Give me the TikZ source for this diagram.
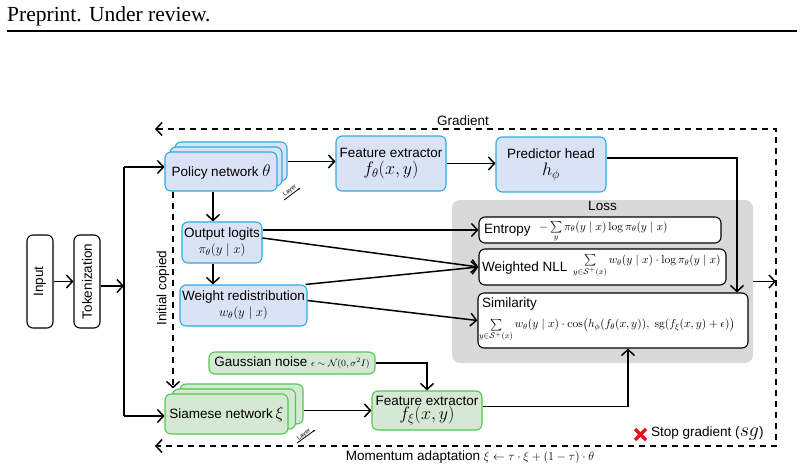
\documentclass[tikz,border=0pt]{standalone}
\usepackage{fix-cm}
\usepackage{amsmath,amssymb}
\usepackage[no-math]{fontspec}
\setmainfont{Liberation Sans}
\newfontfamily\serifhdr{Liberation Serif}
\usetikzlibrary{arrows.meta,calc}
\definecolor{bfill}{HTML}{DAE3F6}
\definecolor{bdraw}{HTML}{2DA9E1}
\definecolor{gfill}{HTML}{D5E8D4}
\definecolor{gdraw}{HTML}{4DC94D}
\definecolor{lossgray}{HTML}{D9D9D9}
\definecolor{xred}{HTML}{E0141B}
\newcommand{\fs}[1]{\fontsize{#1}{#1}\selectfont}
\begin{document}
\begin{tikzpicture}[x=1pt,y=-1pt,
  font=\fontsize{13.5}{16}\selectfont,
  bluebox/.style={draw=bdraw, fill=bfill, line width=1.1pt, rounded corners=6pt, inner sep=0pt, align=center},
  greenbox/.style={draw=gdraw, fill=gfill, line width=1.1pt, rounded corners=6pt, inner sep=0pt, align=center},
  blackbox/.style={draw=black, fill=white, line width=1.1pt, rounded corners=6pt, inner sep=0pt},
  arr/.style={-{Straight Barb[length=6pt,width=13pt]}, line width=1.5pt},
  dsh/.style={dash pattern=on 6.5pt off 4.5pt, line width=1.5pt},
  lbl/.style={inner sep=0pt},
  tiny/.style={font=\fontsize{6}{6}\selectfont, inner sep=0pt}
]
\useasboundingbox (0,0) rectangle (804,471);

% header
\node[anchor=base west, font=\serifhdr\fontsize{21.5}{24}\selectfont, inner sep=0pt] (hdr) at (7,21) {Preprint. Under review.};
\draw[line width=2.5pt] (7,31) -- (797,31);

% gradient frame
\coordinate (gtl) at (155,129);
\coordinate (gtr) at (776,129);
\coordinate (gbr) at (776,446);
\coordinate (gbl) at (155,446);
\draw[dsh, {Straight Barb[length=6pt,width=13pt]}-{Straight Barb[length=6pt,width=13pt]}] (gtl) -- (gtr) -- (gbr) -- (gbl);
\node[lbl] (grad) at (463,121) {Gradient};
\node[lbl] (mom) at (470,457) {Momentum adaptation {\fs{12}$\xi\leftarrow\tau\cdot\xi+(1-\tau)\cdot\theta$}};

% loss region
\node[fill=lossgray, rounded corners=8pt, minimum width=301pt, minimum height=163pt, inner sep=0pt] (loss) at (602.5,281.5) {};
\node[anchor=north, inner sep=1pt] (losslbl) at (loss.north) {Loss};

\node[blackbox, minimum width=242pt, minimum height=26pt] (ent) at (600,230) {};
\node[lbl, anchor=west] (entt) at (484,230) {Entropy};
\node[lbl, anchor=west] (entf) at (539,232) {\fs{11.5}$-\sum\limits_{y}\pi_\theta(y\mid x)\log\pi_\theta(y\mid x)$};

\node[blackbox, minimum width=247pt, minimum height=36pt] (nll) at (602.5,267) {};
\node[lbl, anchor=west] (nllt) at (482,268) {Weighted NLL};
\node[lbl, anchor=west] (nllf) at (573,266) {\fs{11.5}$\sum\limits_{y\in\mathcal{S}^+(x)} w_\theta(y\mid x)\cdot\log\pi_\theta(y\mid x)$};

\node[blackbox, minimum width=270pt, minimum height=55pt] (sim) at (613,320.5) {};
\node[lbl, anchor=west] (simt) at (482,304) {Similarity};
\node[lbl, anchor=west] (simf) at (479,330) {\fs{11.5}$\sum\limits_{y\in\mathcal{S}^+(x)} w_\theta(y\mid x)\cdot\cos\!\big(h_\phi(f_\theta(x,y)),\ \mathrm{sg}(f_\xi(x,y)+\epsilon)\big)$};

% input chain
\node[blackbox, minimum width=26pt, minimum height=93pt] (inp) at (40,281.5) {\rotatebox{90}{Input}};
\node[blackbox, minimum width=26pt, minimum height=93pt] (tok) at (87,281.5) {\rotatebox{90}{Tokenization}};
\coordinate (vt) at (124,167);
\coordinate (vb) at (124,416);
\coordinate (vm) at (124,286);

% policy stack
\node[bluebox, minimum width=112pt, minimum height=39pt] (pol3) at (231,161.5) {};
\node[bluebox, minimum width=112pt, minimum height=39pt] (pol2) at (226,166.5) {};
\node[bluebox, minimum width=112pt, minimum height=39pt] (pol) at (221,171.5) {Policy network {\fs{17}$\theta$}};
\coordinate (ly1a) at (284,200);
\coordinate (ly1b) at (300,188);
\draw[-{Stealth[length=2pt,width=2pt]}, line width=0.8pt] (ly1a) -- (ly1b);
\node[tiny, rotate=38] (ly1) at (290,191) {Layer};

\node[bluebox, minimum width=110pt, minimum height=55pt] (fe) at (391,163.5) {Feature extractor\\[1pt]{\fs{18}$f_\theta(x,y)$}};
\node[bluebox, minimum width=110pt, minimum height=55pt] (pred) at (551,164.5) {Predictor head\\[1pt]{\fs{18}$h_\phi$}};

\node[bluebox, minimum width=80pt, minimum height=41pt] (ol) at (222,242.5) {Output logits\\{\fs{13}$\pi_\theta(y\mid x)$}};
\node[bluebox, minimum width=127pt, minimum height=41pt] (wr) at (243.5,305.5) {Weight redistribution\\{\fs{13}$w_\theta(y\mid x)$}};

\node[lbl, rotate=90] (iclbl) at (163,288) {Initial copied};
\coordinate (icx) at (173,0);
\coordinate (px) at (213,0);

% siamese stack
\node[greenbox, minimum width=123pt, minimum height=40pt] (siam3) at (241.5,404) {};
\node[greenbox, minimum width=123pt, minimum height=40pt] (siam2) at (234,409) {};
\node[greenbox, minimum width=123pt, minimum height=40pt] (siam) at (226.5,414) {Siamese network{\fs{17}$\,\xi$}};
\coordinate (ly2a) at (297,443);
\coordinate (ly2b) at (315,430);
\draw[-{Stealth[length=2pt,width=2pt]}, line width=0.8pt] (ly2a) -- (ly2b);
\node[tiny, rotate=38] (ly2) at (304,435) {Layer};

\node[greenbox, minimum width=166pt, minimum height=22pt] (gn) at (292,363) {Gaussian noise {\fs{9.5}$\epsilon\sim\mathcal{N}(0,\sigma^2 I)$}};
\node[greenbox, minimum width=110pt, minimum height=39pt] (fex) at (427,410.5) {Feature extractor\\[-2pt]{\fs{18}$f_\xi(x,y)$}};

% stop gradient
\coordinate (xa) at (635,429);
\coordinate (xb) at (646,440);
\coordinate (xc) at (635,440);
\coordinate (xd) at (646,429);
\draw[xred, line width=3.2pt] (xa) -- (xb) (xc) -- (xd);
\node[lbl, anchor=west] (sg) at (651,434) {Stop gradient ({\fs{20}$sg$})};

% connectors
\draw[arr] (inp) -- (tok);
\draw[arr] (tok.east |- vm) -- (vm);
\draw[line width=1.5pt] (vt) -- (vb);
\draw[arr] (vt) -- (vt -| pol.west);
\draw[arr] (vb) -- (vb -| siam.west);
\draw[arr] (pol3.east) -- (pol3.east -| fe.west);
\draw[arr] (fe.east) -- (fe.east -| pred.west);
\coordinate (pcx) at (737,0);
\draw[arr] ([yshift=6.5pt]pred.east) -| (pcx |- sim.north);
\draw[arr] (px |- pol.south) -- (px |- ol.north);
\draw[arr] (px |- ol.south) -- (px |- wr.north);
\draw[dsh, -{Straight Barb[length=6pt,width=13pt]}] (icx |- pol.south) -- (icx |- siam2.north);
\draw[arr] (ol.east |- ent.west) -- (ent.west);
\draw[arr] ([yshift=4.5pt]ol.east) -- (nll.west);
\draw[arr] ([xshift=-2pt]wr.north east) -- (nll.west);
\draw[arr] ([yshift=5pt]wr.east) -- (sim.west);
\draw[arr] (gn.east) -| (fex.north);
\draw[arr] (siam3.east |- fex.west) -- (fex.west);
\coordinate (sx) at (628,0);
\draw[arr] ([yshift=4pt]fex.east) -| (sx |- sim.south);
\draw[arr] (loss.east) -- (loss.east -| gtr);
\end{tikzpicture}
\end{document}
